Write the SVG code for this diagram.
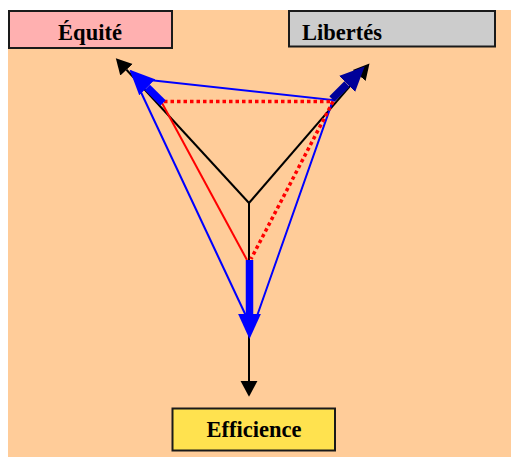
<svg xmlns="http://www.w3.org/2000/svg" width="511" height="457" viewBox="0 0 511 457">
<style>
.box{stroke:#1a1a1a;stroke-width:2}
.lbl{font-family:"Liberation Serif","Times New Roman",serif;font-weight:bold;font-size:22.5px;fill:#000}
.blk{stroke:#000;stroke-width:2;fill:none}
.thin{stroke:#0000FF;stroke-width:2;fill:none}
.red{stroke:#FF0000;stroke-width:2;fill:none}
.dot{stroke:#FF0000;stroke-width:3.5;stroke-dasharray:3.5 3;fill:none}
.thick{stroke:#0000FF;stroke-width:7.5;fill:none}
</style>
<defs>
<marker id="ak" markerUnits="userSpaceOnUse" markerWidth="16" markerHeight="18" viewBox="0 -8 14 16" refX="0" refY="0" orient="auto">
<path d="M0,-7.5 L14,0 L0,7.5 z" fill="#000"/>
</marker>
<marker id="ab" markerUnits="userSpaceOnUse" markerWidth="26" markerHeight="24" viewBox="0 -11 24 22" refX="0" refY="0" orient="auto">
<path d="M0,-10.5 L23,0 L0,10.5 z" fill="#0000FF"/>
</marker>
<marker id="an" markerUnits="userSpaceOnUse" markerWidth="26" markerHeight="24" viewBox="0 -11 24 22" refX="0" refY="0" orient="auto">
<path d="M0,-10.5 L23,0 L0,10.5 z" fill="#000099"/>
</marker>
</defs>
<rect x="8" y="10" width="503" height="447" fill="#FFCC99"/>
<g id="connectors">
<line class="blk" x1="249" y1="203" x2="126.5" y2="69.8" marker-end="url(#ak)"/>
<line class="blk" x1="249" y1="203" x2="359.2" y2="75.4" marker-end="url(#ak)"/>
<line class="blk" x1="249" y1="203" x2="249" y2="381" marker-end="url(#ak)"/>
<polyline class="thin" points="140,79 333,100 257,316"/>
<line class="thin" x1="131" y1="71" x2="247" y2="318"/>
<line class="red" x1="162" y1="103" x2="247" y2="260"/>
<polyline class="dot" points="164,101.5 333,101.5 251,259"/>
<line class="thick" x1="163" y1="103" x2="147.3" y2="87.3" marker-end="url(#ab)"/>
<line stroke="#000099" stroke-width="7.5" x1="332" y1="99" x2="347" y2="84" marker-end="url(#an)"/>
<line class="thick" x1="249.5" y1="260" x2="249.5" y2="314" marker-end="url(#ab)"/>
</g>
<g id="equite">
<rect class="box" x="9" y="11" width="163" height="37" fill="#FFB0B0"/>
<text class="lbl" x="90" y="40" text-anchor="middle">Équité</text>
</g>
<g id="libertes">
<rect class="box" x="289" y="11" width="206" height="35.5" fill="#CCCCCC"/>
<text class="lbl" x="302" y="40">Libertés</text>
</g>
<g id="efficience">
<rect class="box" x="172.5" y="408.5" width="162.5" height="42" fill="#FFE24F"/>
<text class="lbl" x="254" y="437" text-anchor="middle">Efficience</text>
</g>
</svg>
